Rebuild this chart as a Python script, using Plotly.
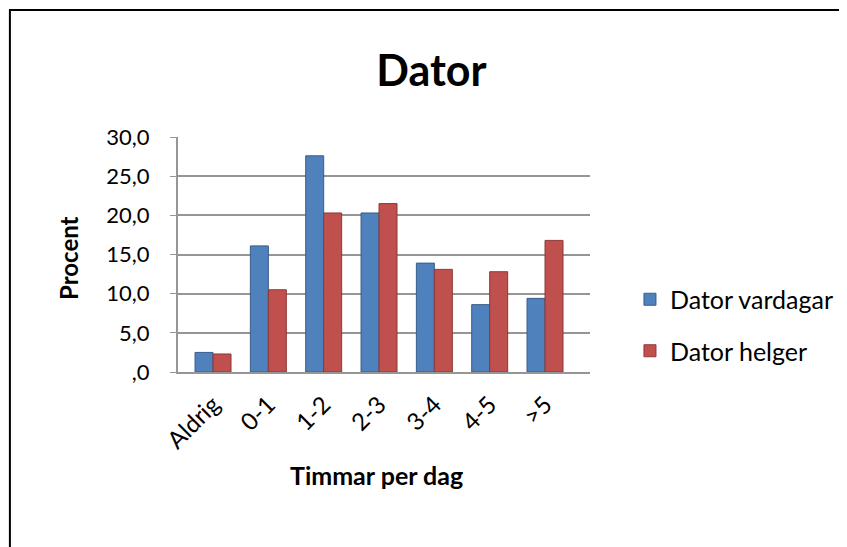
import plotly.graph_objects as go

categories = ["Aldrig", "0-1", "1-2", "2-3", "3-4", "4-5", ">5"]
vardagar = [2.5, 16.1, 27.6, 20.3, 13.9, 8.6, 9.4]
helger = [2.3, 10.5, 20.3, 21.5, 13.1, 12.8, 16.8]
ytick_vals = [0, 5, 10, 15, 20, 25, 30]
ytick_text = [",0", "5,0", "10,0", "15,0", "20,0", "25,0", "30,0"]

FONT = "Lato"

fig = go.Figure()
fig.add_trace(go.Bar(x=categories, y=vardagar, name="Dator vardagar",
                     marker=dict(color="#4F81BD", line=dict(color="#385D8A", width=1)),
                     legendgroup="a"))
fig.add_trace(go.Bar(x=categories, y=helger, name="Dator helger",
                     marker=dict(color="#C0504D", line=dict(color="#8C3836", width=1)),
                     legendgroup="b"))

fig.update_layout(
    width=847, height=547,
    margin=dict(l=170, r=265, t=129, b=183),
    paper_bgcolor="white", plot_bgcolor="white",
    barmode="group", bargap=0.35, bargroupgap=0.0,
    font=dict(family=FONT, color="black"),
    title=dict(text="<b>Dator</b>", x=0.5, xanchor="center", y=0.885, yanchor="middle",
               yref="container", font=dict(size=43, family=FONT)),
    xaxis=dict(tickangle=-45, tickfont=dict(size=24), showgrid=False,
               range=[-0.633, 6.813],
               showline=True, linecolor="#969696", linewidth=2, ticks="",
               ticklabelstandoff=7),
    yaxis=dict(range=[0, 30], tickvals=ytick_vals, ticktext=ytick_text,
               tickfont=dict(size=22), showgrid=True, gridcolor="#969696", gridwidth=2,
               showline=True, linecolor="#969696", linewidth=2, zeroline=False,
               ticks="outside", ticklen=6, tickcolor="#969696", ticklabelstandoff=16),
    legend=dict(x=1.097, xanchor="left", y=0.2, yanchor="middle",
                font=dict(size=25), tracegroupgap=16, bgcolor="rgba(0,0,0,0)"),
    showlegend=True,
)

fig.add_annotation(text="<b>Timmar per dag</b>", xref="paper", yref="paper",
                   x=0.483, y=-0.438, showarrow=False, font=dict(size=25, family=FONT),
                   xanchor="center", yanchor="middle")
fig.add_annotation(text="<b>Procent</b>", xref="paper", yref="paper",
                   x=-0.267, y=0.485, showarrow=False, textangle=-90,
                   font=dict(size=24, family=FONT), xanchor="center", yanchor="middle")

fig.add_shape(type="rect", xref="paper", yref="paper",
              x0=-0.408, x1=1.607, y0=-0.9, y1=1.540,
              line=dict(color="black", width=2), fillcolor="rgba(0,0,0,0)", layer="below")

fig.write_html("out.html")
